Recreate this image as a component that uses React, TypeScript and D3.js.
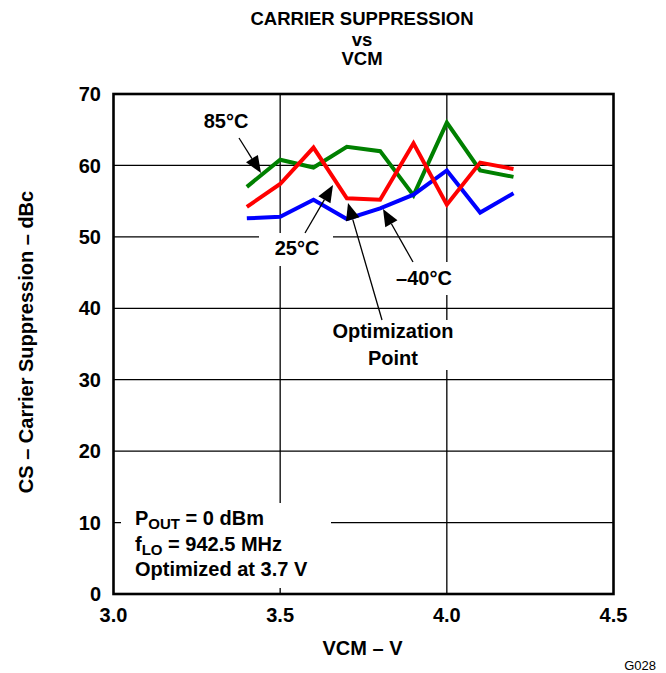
import React from "react";
import * as d3 from "d3";

const vcm = [3.4, 3.5, 3.6, 3.7, 3.8, 3.9, 4.0, 4.1, 4.2];
const cs85 = [57.0, 60.8, 59.7, 62.6, 62.0, 55.8, 66.0, 59.3, 58.4];
const cs25 = [54.2, 57.4, 62.5, 55.4, 55.2, 63.1, 54.5, 60.4, 59.5];
const csM40 = [52.6, 52.8, 55.2, 52.5, 54.0, 55.9, 59.3, 53.4, 56.1];
const xTicks = [3.0, 3.5, 4.0, 4.5];
const yTicks = [0, 10, 20, 30, 40, 50, 60, 70];

const W = 666;
const H = 673;
const FONT = "'Liberation Sans', Arial, Helvetica, sans-serif";

export default function App() {
  const x = d3.scaleLinear().domain([3.0, 4.5]).range([113.5, 613.5]);
  const y = d3.scaleLinear().domain([0, 70]).range([594, 94]);
  const line = d3
    .line<number>()
    .x((_, i) => x(vcm[i]))
    .y((d) => y(d));

  const series = [
    { data: cs85, color: "#008000" },
    { data: csM40, color: "#0000ff" },
    { data: cs25, color: "#ff0000" },
  ];

  const arrow = (x1: number, y1: number, x2: number, y2: number, key: string) => {
    const a = Math.atan2(y2 - y1, x2 - x1);
    const L = 17;
    const hw = 7;
    const bx = x2 - L * Math.cos(a);
    const by = y2 - L * Math.sin(a);
    const px = -Math.sin(a);
    const py = Math.cos(a);
    const pts = [
      [x2, y2],
      [bx + hw * px, by + hw * py],
      [bx - hw * px, by - hw * py],
    ]
      .map((p) => p.join(","))
      .join(" ");
    return (
      <g key={key}>
        <line x1={x1} y1={y1} x2={bx} y2={by} stroke="#000" strokeWidth={1.3} />
        <polygon points={pts} fill="#000" />
      </g>
    );
  };

  const bold = { fontFamily: FONT, fontWeight: 700, fontSize: 20, fill: "#000" } as const;

  return (
    <svg
      width={W}
      height={H}
      style={{ position: "absolute", left: 0, top: 0, background: "#fff" }}
    >
      <rect x={0} y={0} width={W} height={H} fill="#fff" />
      {/* title */}
      <g style={{ ...bold, fontSize: 18.5 } as any} textAnchor="middle">
        <text x={362} y={24.5}>CARRIER SUPPRESSION</text>
        <text x={362} y={45.5}>vs</text>
        <text x={362} y={65}>VCM</text>
      </g>

      {/* grid */}
      {yTicks.slice(1, -1).map((t) => (
        <line key={"gy" + t} x1={x(3.0)} x2={x(4.5)} y1={y(t)} y2={y(t)} stroke="#000" strokeWidth={1.3} />
      ))}
      {xTicks.slice(1, -1).map((t) => (
        <line key={"gx" + t} x1={x(t)} x2={x(t)} y1={y(0)} y2={y(70)} stroke="#000" strokeWidth={1.3} />
      ))}

      {/* white label backgrounds breaking the grid */}
      <rect x={121} y={503} width={210} height={85} fill="#fff" />
      <rect x={259} y={233} width={74} height={33} fill="#fff" />
      <rect x={392} y={262} width={66} height={33} fill="#fff" />
      <rect x={326} y={320} width={134} height={50} fill="#fff" />

      {/* series */}
      {series.map((s, i) => (
        <path
          key={i}
          d={line(s.data) || ""}
          fill="none"
          stroke={s.color}
          strokeWidth={4}
          strokeLinejoin="miter"
        />
      ))}

      {/* frame */}
      <rect
        x={x(3.0)}
        y={y(70)}
        width={x(4.5) - x(3.0)}
        height={y(0) - y(70)}
        fill="none"
        stroke="#000"
        strokeWidth={2.6}
      />

      {/* tick labels */}
      <g style={bold as any}>
        {yTicks.map((t) => (
          <text key={"ty" + t} x={101} y={y(t)} dy="0.36em" textAnchor="end">
            {t}
          </text>
        ))}
        {xTicks.map((t) => (
          <text key={"tx" + t} x={x(t)} y={622} textAnchor="middle">
            {t.toFixed(1)}
          </text>
        ))}
        <text x={362.5} y={655} textAnchor="middle">VCM – V</text>
        <text transform="translate(33,342) rotate(-90)" textAnchor="middle">
          CS – Carrier Suppression – dBc
        </text>
      </g>

      {/* annotations */}
      <g style={bold as any} textAnchor="middle">
        <text x={226} y={128}>85°C</text>
        <text x={297} y={255}>25°C</text>
        <text x={424} y={285}>–40°C</text>
        <text x={393} y={338}>Optimization</text>
        <text x={393} y={365}>Point</text>
      </g>
      {arrow(239, 138, 261, 173, "a85")}
      {arrow(305, 233, 333, 185, "a25")}
      {arrow(413, 262, 383, 209, "a40")}
      {arrow(382, 320, 348, 203, "aopt")}

      {/* conditions */}
      <g style={bold as any}>
        <text x={135} y={525}>
          P<tspan fontSize={15} dy={4}>OUT</tspan>
          <tspan dy={-4}> = 0 dBm</tspan>
        </text>
        <text x={135} y={551}>
          f<tspan fontSize={15} dy={4}>LO</tspan>
          <tspan dy={-4}> = 942.5 MHz</tspan>
        </text>
        <text x={135} y={576}>Optimized at 3.7 V</text>
      </g>

      <text x={656} y={670} textAnchor="end" style={{ fontFamily: FONT, fontSize: 13, fill: "#000" }}>
        G028
      </text>
    </svg>
  );
}
